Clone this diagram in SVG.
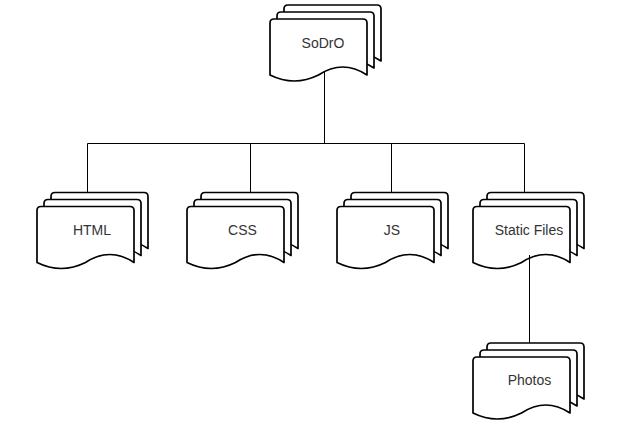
<svg xmlns="http://www.w3.org/2000/svg" xmlns:xlink="http://www.w3.org/1999/xlink" width="644" height="431" viewBox="0 0 644 431">
<style>
.pg{fill:#fff;stroke:#000;stroke-width:1.7;stroke-linejoin:round}
.lbl{font-family:"Liberation Sans",Arial,sans-serif;font-size:14px;fill:#333;text-anchor:middle}
.cn{fill:none;stroke:#000;stroke-width:1}
</style>
<defs>
<path id="page" d="M0,56 L0,4 Q0,0 4,0 L93,0 Q97,0 97,4 L97,56 Q72.75,40 48.5,56 Q24.25,68 0,56 Z"/>
<g id="multi">
<use xlink:href="#page" class="pg" x="14" y="0"/>
<use xlink:href="#page" class="pg" x="7" y="7"/>
<use xlink:href="#page" class="pg" x="0" y="14"/>
</g>
</defs>
<rect width="644" height="431" fill="#fff"/>
<g id="node-sodro">
<use xlink:href="#multi" transform="translate(270,5)"/>
<text class="lbl" x="323" y="48">SoDrO</text>
</g>
<g id="node-html">
<use xlink:href="#multi" transform="translate(37,192.5)"/>
<text class="lbl" x="92" y="235">HTML</text>
</g>
<g id="node-css">
<use xlink:href="#multi" transform="translate(187,192.5)"/>
<text class="lbl" x="242.5" y="235">CSS</text>
</g>
<g id="node-js">
<use xlink:href="#multi" transform="translate(337,192.5)"/>
<text class="lbl" x="392" y="235">JS</text>
</g>
<g id="node-static">
<use xlink:href="#multi" transform="translate(473,192.5)"/>
<text class="lbl" x="529" y="235">Static Files</text>
</g>
<g id="node-photos">
<use xlink:href="#multi" transform="translate(473,343)"/>
<text class="lbl" x="529.5" y="385">Photos</text>
</g>
<g id="connectors">
<path class="cn" d="M324.5,71 V143.5"/>
<path class="cn" d="M87.5,192.5 V143.5 H524.5 V192.5"/>
<path class="cn" d="M250.5,143.5 V192.5"/>
<path class="cn" d="M391.5,143.5 V192.5"/>
<path class="cn" d="M529.5,255 V343"/>
</g>
</svg>
